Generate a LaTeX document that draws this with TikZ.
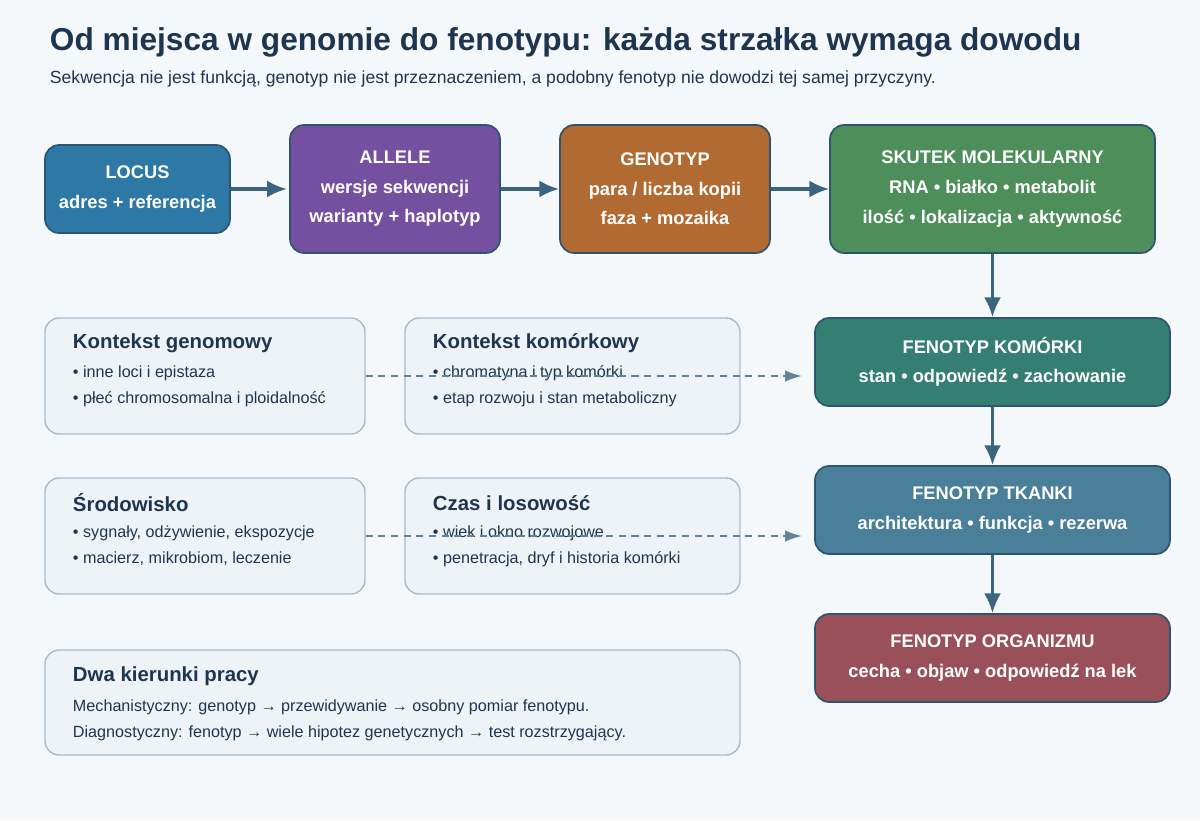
\documentclass[tikz,border=0pt]{standalone}
\usepackage{fontspec}
\setmainfont{Liberation Sans}
\usetikzlibrary{positioning, arrows.meta}
\definecolor{bgc}{HTML}{F5F8FB}
\definecolor{ink}{HTML}{1E3550}
\definecolor{edge}{HTML}{2F5470}
\definecolor{arr}{HTML}{3B6480}
\definecolor{ctxfill}{HTML}{EEF3F7}
\definecolor{ctxedge}{HTML}{A9BCCB}
\definecolor{cLocus}{HTML}{2E78A6}
\definecolor{cAllele}{HTML}{7650A0}
\definecolor{cGeno}{HTML}{B06A32}
\definecolor{cSkutek}{HTML}{4E8E5B}
\definecolor{cKom}{HTML}{357E72}
\definecolor{cTkan}{HTML}{4A7F9A}
\definecolor{cOrg}{HTML}{9A5058}
\tikzset{
  stage/.style={draw=edge, line width=1.2pt, rounded corners=10pt, text=white,
    font=\bfseries\fontsize{13}{21}\selectfont, align=center},
  ctx/.style={draw=ctxedge, fill=ctxfill, line width=1pt, rounded corners=10pt},
  ctxtitle/.style={anchor=west, text=ink, font=\bfseries\fontsize{14.5}{17}\selectfont},
  ctxline/.style={anchor=west, text=ink, font=\fontsize{11.5}{14}\selectfont},
  flow/.style={-{Latex[length=14pt,width=12pt]}, draw=arr, line width=2.2pt},
  hint/.style={-{Latex[length=12pt,width=8pt]}, draw=arr!80, line width=1pt, dash pattern=on 5pt off 4pt}
}
\begin{document}
\begin{tikzpicture}[x=0.025cm, y=-0.025cm]
\useasboundingbox (0,0) rectangle (1200,820);
\fill[bgc] (0,0) rectangle (1200,820);

% title
\node[anchor=west, text=ink, font=\bfseries\fontsize{22.5}{26}\selectfont] (title) at (45,42)
  {Od miejsca w genomie do fenotypu: każda strzałka wymaga dowodu};
\node[anchor=west, text=ink, font=\fontsize{12.5}{15}\selectfont] (subtitle) at (45,79)
  {Sekwencja nie jest funkcją, genotyp nie jest przeznaczeniem, a podobny fenotyp nie dowodzi tej samej przyczyny.};

% top row
\node[stage, fill=cLocus, minimum width=185*0.025cm, minimum height=88*0.025cm] (locus) at (137.5,189)
  {LOCUS\\adres + referencja};
\node[stage, fill=cAllele, minimum width=210*0.025cm, minimum height=128*0.025cm] (allele) at (395,189)
  {ALLELE\\wersje sekwencji\\warianty + haplotyp};
\node[stage, fill=cGeno, minimum width=210*0.025cm, minimum height=128*0.025cm] (geno) at (665,189)
  {GENOTYP\\para / liczba kopii\\faza + mozaika};
\node[stage, fill=cSkutek, minimum width=325*0.025cm, minimum height=128*0.025cm] (skutek) at (992.5,189)
  {SKUTEK MOLEKULARNY\\RNA • białko • metabolit\\ilość • lokalizacja • aktywność};

% right column
\node[stage, fill=cKom, minimum width=355*0.025cm, minimum height=88*0.025cm] (komorka) at (992.5,362)
  {FENOTYP KOMÓRKI\\stan • odpowiedź • zachowanie};
\node[stage, fill=cTkan, minimum width=355*0.025cm, minimum height=88*0.025cm] (tkanka) at (992.5,510)
  {FENOTYP TKANKI\\architektura • funkcja • rezerwa};
\node[stage, fill=cOrg, minimum width=355*0.025cm, minimum height=88*0.025cm] (organizm) at (992.5,658)
  {FENOTYP ORGANIZMU\\cecha • objaw • odpowiedź na lek};

\draw[flow] (locus.east) -- ++(56,0);
\draw[flow] (allele.east) -- (geno.west);
\draw[flow] (geno.east) -- (skutek.west);
\draw[flow] (skutek.south) -- (komorka.north);
\draw[flow] (komorka.south) -- (tkanka.north);
\draw[flow] (tkanka.south) -- (organizm.north);

% context boxes
\node[ctx, minimum width=320*0.025cm, minimum height=116*0.025cm] (genom) at (205,376) {};
\node[ctx, minimum width=335*0.025cm, minimum height=116*0.025cm] (kom) at (572.5,376) {};
\node[ctx, minimum width=320*0.025cm, minimum height=116*0.025cm] (srod) at (205,536) {};
\node[ctx, minimum width=335*0.025cm, minimum height=116*0.025cm] (czas) at (572.5,536) {};
\node[ctx, minimum width=695*0.025cm, minimum height=105*0.025cm] (praca) at (392.5,702.5) {};

\node[ctxtitle] at (68,343) {Kontekst genomowy};
\node[ctxline] at (68,373) {• inne loci i epistaza};
\node[ctxline] at (68,399) {• płeć chromosomalna i ploidalność};
\node[ctxtitle] at (428,343) {Kontekst komórkowy};
\node[ctxline] at (428,373) {• chromatyna i typ komórki};
\node[ctxline] at (428,399) {• etap rozwoju i stan metaboliczny};
\node[ctxtitle] at (68,503) {Środowisko};
\node[ctxline] at (68,533) {• sygnały, odżywienie, ekspozycje};
\node[ctxline] at (68,559) {• macierz, mikrobiom, leczenie};
\node[ctxtitle] at (428,503) {Czas i losowość};
\node[ctxline] at (428,533) {• wiek i okno rozwojowe};
\node[ctxline] at (428,559) {• penetracja, dryf i historia komórki};
\node[ctxtitle] at (68,676) {Dwa kierunki pracy};
\node[ctxline] at (68,707) {Mechanistyczny: genotyp → przewidywanie → osobny pomiar fenotypu.};
\node[ctxline] at (68,733) {Diagnostyczny: fenotyp → wiele hipotez genetycznych → test rozstrzygający.};

\coordinate (kin) at (802,376);
\coordinate (tin) at (802,536);
\draw[hint] (genom.east) -- (kin);
\draw[hint] (srod.east) -- (tin);
\end{tikzpicture}
\end{document}
